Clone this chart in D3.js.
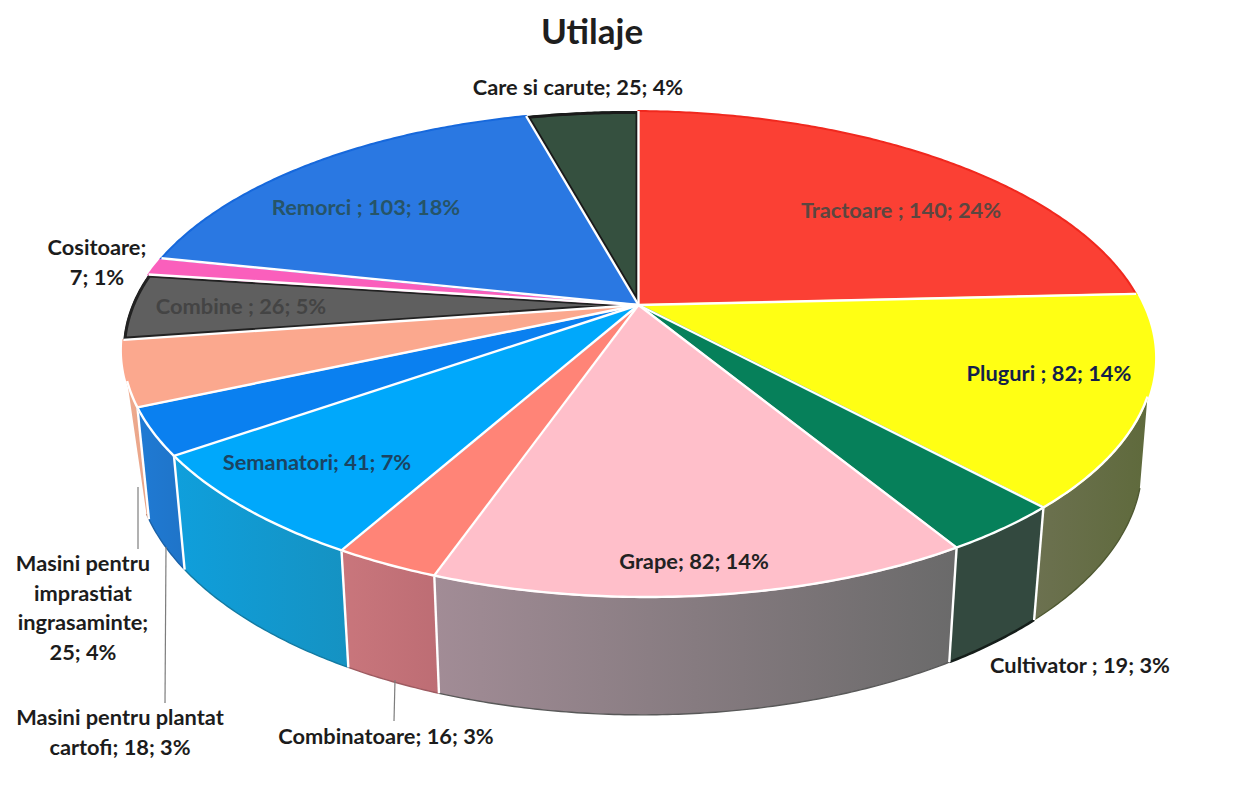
<!DOCTYPE html>
<html>
<head>
<meta charset="utf-8">
<title>Utilaje</title>
<script src="https://cdn.jsdelivr.net/npm/d3@7"></script>
<style>
  html, body { margin: 0; padding: 0; background: #fff; }
  svg { display: block; }
  text { font-family: Lato, "Open Sans", sans-serif; font-weight: 700; }
</style>
</head>
<body>
<div id="chart"></div>
<script>
// data
const names = ['Tractoare ', 'Pluguri ', 'Cultivator ', 'Grape', 'Combinatoare', 'Semanatori',
  'Masini pentru plantat cartofi', 'Masini pentru imprastiat ingrasaminte', 'Combine ', 'Cositoare', 'Remorci ', 'Care si carute'];
const values = [140, 82, 19, 82, 16, 41, 18, 25, 26, 7, 103, 25];
const percents = [24, 14, 3, 14, 3, 7, 3, 4, 5, 1, 18, 4];

const topColors = ['#fb4034', '#ffff14', '#06805a', '#ffbfca', '#ff8477', '#00a8fb',
  '#0a80f0', '#fba88e', '#5f5f5f', '#fa5fbc', '#2a78e2', '#35503f'];
// left and right colour of each wall (only the front slices have one)
const wallColors = [null, ['#6c7150', '#5f6a3c'], ['#33493f', '#33493f'], ['#a28c96', '#6a6a6a'],
  ['#c9767c', '#bd6d74'], ['#0f9fdc', '#1592c2'], ['#1f7ad4', '#1f74c8'], ['#eeaa8e', '#e8a488'], null, null, null, null];
const edgeColors = ['#f0281e', '#ffff14', '#06805a', '#ffbfca', '#ff8477', '#00a8fb',
  '#0a80f0', '#fba88e', '#222222', '#fa5fbc', '#1668dc', '#1a1a1a'];
const darkEdge = [false, false, false, false, false, false, false, false, true, false, false, true];

// label placement, same order as names: [center x, first baseline, line height, colour]
const labelLines = [
  ['Tractoare ; 140; 24%'], ['Pluguri ; 82; 14%'], ['Cultivator ; 19; 3%'], ['Grape; 82; 14%'],
  ['Combinatoare; 16; 3%'], ['Semanatori; 41; 7%'], ['Masini pentru plantat', 'cartofi; 18; 3%'],
  ['Masini pentru', 'imprastiat', 'ingrasaminte;', '25; 4%'], ['Combine ; 26; 5%'], ['Cositoare;', '7; 1%'],
  ['Remorci ; 103; 18%'], ['Care si carute; 25; 4%']
];
const labelSpots = [
  [901, 218, 0, '#5c4640'], [1049, 381, 0, '#141f4a'], [1080, 673, 0, '#1c1c1c'], [694, 569, 0, '#222222'],
  [386, 744, 0, '#1c1c1c'], [317, 470, 0, '#1b4462'], [120, 725, 30, '#1c1c1c'],
  [83, 571, 29.5, '#1c1c1c'], [241, 314, 0, '#444444'], [97, 255, 30, '#1c1c1c'],
  [366, 215, 0, '#265468'], [578, 95, 0, '#1c1c1c']
];
// leader lines: [x1, y1, x2, y2]
const leaders = [[138, 487, 138, 549], [166, 547, 165, 703], [395, 680, 394, 721]];

const width = 1257;
const height = 789;

// perspective of the pie disc
const cx = 638.5, cy = 305;
const radiusX = 505, radiusY = 233.1, tilt = -0.2016;
// the scan is a little crooked, so the disc leans to the right
const lean = 0.0075, underLean = 0.004;
// the underside is the top disc a bit narrower and moved down
const underX = 0.977, underY = 1.042, underShift = 92.8;
const deg = Math.PI / 180;
const wallTop = [110.5 * deg, 251.3 * deg];
const wallBottom = [107 * deg, 246.5 * deg];

function flat(a) {
  const u = Math.sin(a), v = -Math.cos(a);
  const d = 1 + tilt * v;
  return [cx + radiusX * u / d, cy + radiusY * v / d];
}
function project(a) {
  const p = flat(a);
  return [p[0], p[1] + lean * (p[0] - cx)];
}
function under(a) {
  const p = flat(a);
  return [cx + (p[0] - cx) * underX, p[1] * underY + underShift + underLean * (p[0] - cx)];
}
function arcPoints(fn, a0, a1) {
  const n = Math.max(2, Math.ceil((a1 - a0) / (0.5 * deg)));
  return d3.range(n + 1).map(i => fn(a0 + (a1 - a0) * i / n));
}

const svg = d3.select('#chart').append('svg')
  .attr('width', width)
  .attr('height', height)
  .attr('viewBox', `0 0 ${width} ${height}`);

const defs = svg.append('defs');
const line = d3.line();
const slices = d3.pie().sort(null).value(d => d)(values);
slices.sort((a, b) => a.index - b.index);

// walls
const walls = svg.append('g');
slices.forEach((s, i) => {
  if (!wallColors[i]) return;
  const t0 = Math.max(s.startAngle, wallTop[0]), t1 = Math.min(s.endAngle, wallTop[1]);
  const b0 = Math.max(s.startAngle, wallBottom[0]), b1 = Math.min(s.endAngle, wallBottom[1]);
  const pts = arcPoints(project, t0, t1).concat(arcPoints(under, b0, b1).reverse());

  const grad = defs.append('linearGradient').attr('id', `wall${i}`).attr('x1', 0).attr('x2', 1);
  grad.append('stop').attr('offset', 0).attr('stop-color', wallColors[i][0]);
  grad.append('stop').attr('offset', 1).attr('stop-color', wallColors[i][1]);
  const edge = d3.color(wallColors[i][1]).darker(i === 2 ? 2.5 : 0.5);

  walls.append('path')
    .attr('d', line(pts) + 'Z')
    .attr('fill', `url(#wall${i})`);
  walls.append('path')
    .attr('d', line(arcPoints(under, b0, b1)))
    .attr('fill', 'none')
    .attr('stroke', edge)
    .attr('stroke-width', i === 2 ? 2.5 : 1.4);
});

// white seams between the walls
slices.forEach(s => {
  if (s.endAngle <= wallTop[0] || s.endAngle >= wallTop[1]) return;
  walls.append('path')
    .attr('d', line([project(s.endAngle), under(s.endAngle)]))
    .attr('stroke', '#fff')
    .attr('stroke-width', 2.4);
});

// top face
const faces = svg.append('g');
slices.forEach((s, i) => {
  const d = line([[cx, cy]].concat(arcPoints(project, s.startAngle, s.endAngle))) + 'Z';
  defs.append('clipPath').attr('id', `face${i}`).append('path').attr('d', d);
  faces.append('path')
    .attr('d', d)
    .attr('fill', topColors[i])
    .attr('stroke', edgeColors[i])
    .attr('stroke-width', darkEdge[i] ? 6 : 2)
    .attr('clip-path', darkEdge[i] ? `url(#face${i})` : null);
});

// white lines between the slices
slices.forEach(s => {
  faces.append('path')
    .attr('d', line([[cx, cy], project(s.endAngle)]))
    .attr('stroke', '#fff')
    .attr('stroke-width', 2.4);
});
faces.append('path')
  .attr('d', line(arcPoints(project, wallTop[0], wallTop[1])))
  .attr('fill', 'none')
  .attr('stroke', '#fff')
  .attr('stroke-width', 2.4);

// leader lines
svg.append('g').selectAll('line')
  .data(leaders)
  .join('line')
  .attr('x1', d => d[0]).attr('y1', d => d[1])
  .attr('x2', d => d[2]).attr('y2', d => d[3])
  .attr('stroke', '#7d7d7d')
  .attr('stroke-width', 1.2);

// labels
svg.append('g').selectAll('text')
  .data(labelLines)
  .join('text')
  .attr('text-anchor', 'middle')
  .attr('font-size', 21.8)
  .attr('fill', (d, i) => labelSpots[i][3])
  .each(function (lines, i) {
    const spot = labelSpots[i];
    d3.select(this).selectAll('tspan')
      .data(lines)
      .join('tspan')
      .attr('x', spot[0])
      .attr('y', (t, k) => spot[1] + k * spot[2])
      .text(t => t);
  });

svg.append('text')
  .attr('x', 592)
  .attr('y', 44)
  .attr('text-anchor', 'middle')
  .attr('font-size', 35)
  .attr('fill', '#1e1e1e')
  .text('Utilaje');
</script>
</body>
</html>
